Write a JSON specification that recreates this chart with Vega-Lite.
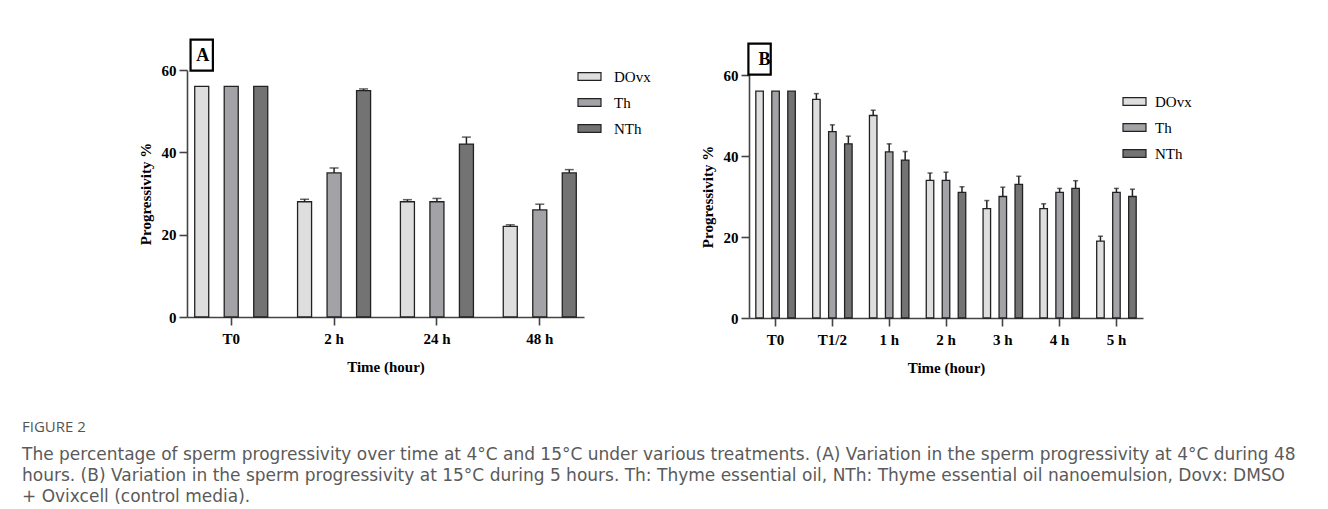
{
  "$schema": "https://vega.github.io/schema/vega-lite/v6.json",
  "padding": {"left": 22, "top": 35, "right": 5, "bottom": 5},
  "background": "white",
  "datasets": {
    "a": [
      {"time": "T0", "group": "DOvx", "value": 56, "upper": 56},
      {"time": "T0", "group": "Th", "value": 56, "upper": 56},
      {"time": "T0", "group": "NTh", "value": 56, "upper": 56},
      {"time": "2 h", "group": "DOvx", "value": 28, "upper": 28.6},
      {"time": "2 h", "group": "Th", "value": 35, "upper": 36.2},
      {"time": "2 h", "group": "NTh", "value": 55, "upper": 55.4},
      {"time": "24 h", "group": "DOvx", "value": 28, "upper": 28.5},
      {"time": "24 h", "group": "Th", "value": 28, "upper": 28.8},
      {"time": "24 h", "group": "NTh", "value": 42, "upper": 43.7},
      {"time": "48 h", "group": "DOvx", "value": 22, "upper": 22.4},
      {"time": "48 h", "group": "Th", "value": 26, "upper": 27.4},
      {"time": "48 h", "group": "NTh", "value": 35, "upper": 35.8}
    ],
    "b": [
      {"time": "T0", "group": "DOvx", "value": 56, "upper": 56},
      {"time": "T0", "group": "Th", "value": 56, "upper": 56},
      {"time": "T0", "group": "NTh", "value": 56, "upper": 56},
      {"time": "T1/2", "group": "DOvx", "value": 54, "upper": 55.4},
      {"time": "T1/2", "group": "Th", "value": 46, "upper": 47.7},
      {"time": "T1/2", "group": "NTh", "value": 43, "upper": 44.9},
      {"time": "1 h", "group": "DOvx", "value": 50, "upper": 51.3},
      {"time": "1 h", "group": "Th", "value": 41, "upper": 43},
      {"time": "1 h", "group": "NTh", "value": 39, "upper": 41.1},
      {"time": "2 h", "group": "DOvx", "value": 34, "upper": 35.8},
      {"time": "2 h", "group": "Th", "value": 34, "upper": 36},
      {"time": "2 h", "group": "NTh", "value": 31, "upper": 32.4},
      {"time": "3 h", "group": "DOvx", "value": 27, "upper": 29},
      {"time": "3 h", "group": "Th", "value": 30, "upper": 32.3},
      {"time": "3 h", "group": "NTh", "value": 33, "upper": 35},
      {"time": "4 h", "group": "DOvx", "value": 27, "upper": 28.2},
      {"time": "4 h", "group": "Th", "value": 31, "upper": 32},
      {"time": "4 h", "group": "NTh", "value": 32, "upper": 33.9},
      {"time": "5 h", "group": "DOvx", "value": 19, "upper": 20.2},
      {"time": "5 h", "group": "Th", "value": 31, "upper": 32},
      {"time": "5 h", "group": "NTh", "value": 30, "upper": 31.8}
    ],
    "one": [{}]
  },
  "config": {
    "font": "Liberation Serif",
    "view": {"stroke": null},
    "axis": {
      "grid": false,
      "domainColor": "#444",
      "domainWidth": 1.6,
      "tickColor": "#444",
      "tickWidth": 1.6,
      "tickSize": 8,
      "labelFont": "Liberation Serif",
      "labelFontSize": 15,
      "labelFontWeight": "bold",
      "labelColor": "black",
      "titleFont": "Liberation Serif",
      "titleFontSize": 15,
      "titleFontWeight": "bold",
      "titleColor": "black"
    },
    "axisX": {"labelAngle": 0, "labelPadding": 6, "titlePadding": 13},
    "axisY": {"labelPadding": 3, "titlePadding": 8},
    "legend": {
      "orient": "none",
      "title": null,
      "symbolType": "M-1,-0.34H1V0.34H-1Z",
      "symbolSize": 529,
      "symbolStrokeColor": "#222",
      "symbolStrokeWidth": 1.2,
      "symbolOpacity": 1,
      "labelFont": "Liberation Serif",
      "labelFontSize": 15,
      "labelColor": "black",
      "rowPadding": 5
    }
  },
  "title": {
    "text": "FIGURE 2",
    "subtitle": [
      "The percentage of sperm progressivity over time at 4°C and 15°C under various treatments. (A) Variation in the sperm progressivity at 4°C during 48",
      "hours. (B) Variation in the sperm progressivity at 15°C during 5 hours. Th: Thyme essential oil, NTh: Thyme essential oil nanoemulsion, Dovx: DMSO",
      "+ Ovixcell (control media)."
    ],
    "orient": "bottom",
    "anchor": "start",
    "frame": "bounds",
    "dx": -116,
    "offset": 45,
    "font": "Open Sans",
    "fontSize": 15,
    "fontWeight": "normal",
    "color": "#555555",
    "subtitleFont": "DejaVu Sans",
    "subtitleFontSize": 17,
    "subtitleColor": "#5a5a5a",
    "subtitleLineHeight": 21,
    "subtitlePadding": 12
  },
  "spacing": 49,
  "resolve": {
    "scale": {"fill": "independent", "x": "independent", "y": "independent", "xOffset": "independent"},
    "legend": {"fill": "independent"}
  },
  "hconcat": [
    {
      "width": 397,
      "height": 247,
      "layer": [
        {
          "data": {"name": "a"},
          "mark": {"type": "bar", "stroke": "#222", "strokeWidth": 1.3},
          "encoding": {
            "x": {"field": "time", "type": "nominal", "sort": ["T0", "2 h", "24 h", "48 h"], "scale": {"paddingInner": 0.29, "paddingOuter": 0.075}, "axis": {"title": "Time (hour)"}},
            "xOffset": {"field": "group", "type": "nominal", "sort": ["DOvx", "Th", "NTh"], "scale": {"paddingInner": 0.525, "paddingOuter": 0}},
            "y": {"field": "value", "type": "quantitative", "scale": {"domain": [0, 60], "nice": false}, "axis": {"title": "Progressivity %", "values": [0, 20, 40, 60]}},
            "fill": {"field": "group", "type": "nominal", "scale": {"domain": ["DOvx", "Th", "NTh"], "range": ["#dedede", "#a3a3a7", "#737373"]}, "legend": {"legendX": 390, "legendY": -6, "labelOffset": 12}}
          }
        },
        {
          "data": {"name": "a"},
          "transform": [{"filter": "datum.upper > datum.value"}],
          "mark": {"type": "rule", "color": "#222", "strokeWidth": 1.5},
          "encoding": {
            "x": {"field": "time", "type": "nominal", "sort": ["T0", "2 h", "24 h", "48 h"]},
            "xOffset": {"field": "group", "type": "nominal", "sort": ["DOvx", "Th", "NTh"]},
            "y": {"field": "value", "type": "quantitative"},
            "y2": {"field": "upper"}
          }
        },
        {
          "data": {"name": "a"},
          "transform": [{"filter": "datum.upper > datum.value"}],
          "mark": {"type": "tick", "orient": "horizontal", "size": 9, "thickness": 1.5, "color": "#222"},
          "encoding": {
            "x": {"field": "time", "type": "nominal", "sort": ["T0", "2 h", "24 h", "48 h"]},
            "xOffset": {"field": "group", "type": "nominal", "sort": ["DOvx", "Th", "NTh"]},
            "y": {"field": "upper", "type": "quantitative"}
          }
        },
        {
          "data": {"name": "one"},
          "mark": {"type": "point", "shape": "M-0.72,-1H0.72V1H-0.72Z", "size": 961, "filled": true, "fill": "white", "stroke": "black", "strokeWidth": 2.2, "opacity": 1, "dx": 1},
          "encoding": {
            "x": {"datum": "T0"},
            "xOffset": {"datum": "DOvx"},
            "y": {"datum": 63.6}
          }
        },
        {
          "data": {"name": "one"},
          "mark": {"type": "text", "text": "A", "font": "Liberation Serif", "fontSize": 18, "fontWeight": "bold", "color": "black", "align": "center", "baseline": "middle", "dx": 1, "dy": 1},
          "encoding": {
            "x": {"datum": "T0"},
            "xOffset": {"datum": "DOvx"},
            "y": {"datum": 63.6}
          }
        }
      ]
    },
    {
      "width": 394,
      "height": 248,
      "layer": [
        {
          "data": {"name": "b"},
          "mark": {"type": "bar", "stroke": "#222", "strokeWidth": 1.3},
          "encoding": {
            "x": {"field": "time", "type": "nominal", "sort": ["T0", "T1/2", "1 h", "2 h", "3 h", "4 h", "5 h"], "scale": {"paddingInner": 0.305, "paddingOuter": 0.12}, "axis": {"title": "Time (hour)"}},
            "xOffset": {"field": "group", "type": "nominal", "sort": ["DOvx", "Th", "NTh"], "scale": {"paddingInner": 0.53, "paddingOuter": 0}},
            "y": {"field": "value", "type": "quantitative", "scale": {"domain": [0, 60], "nice": false, "range": [248, 5]}, "axis": {"title": "Progressivity %", "values": [0, 20, 40, 60]}},
            "fill": {"field": "group", "type": "nominal", "scale": {"domain": ["DOvx", "Th", "NTh"], "range": ["#dedede", "#a3a3a7", "#737373"]}, "legend": {"legendX": 373, "legendY": 19, "labelOffset": 8}}
          }
        },
        {
          "data": {"name": "b"},
          "transform": [{"filter": "datum.upper > datum.value"}],
          "mark": {"type": "rule", "color": "#222", "strokeWidth": 1.5},
          "encoding": {
            "x": {"field": "time", "type": "nominal", "sort": ["T0", "T1/2", "1 h", "2 h", "3 h", "4 h", "5 h"]},
            "xOffset": {"field": "group", "type": "nominal", "sort": ["DOvx", "Th", "NTh"]},
            "y": {"field": "value", "type": "quantitative"},
            "y2": {"field": "upper"}
          }
        },
        {
          "data": {"name": "b"},
          "transform": [{"filter": "datum.upper > datum.value"}],
          "mark": {"type": "tick", "orient": "horizontal", "size": 5, "thickness": 1.5, "color": "#222"},
          "encoding": {
            "x": {"field": "time", "type": "nominal", "sort": ["T0", "T1/2", "1 h", "2 h", "3 h", "4 h", "5 h"]},
            "xOffset": {"field": "group", "type": "nominal", "sort": ["DOvx", "Th", "NTh"]},
            "y": {"field": "upper", "type": "quantitative"}
          }
        },
        {
          "data": {"name": "one"},
          "mark": {"type": "point", "shape": "M-0.72,-1H0.72V1H-0.72Z", "size": 961, "filled": true, "fill": "white", "stroke": "black", "strokeWidth": 2.2, "opacity": 1, "dx": 5},
          "encoding": {
            "x": {"datum": "T0"},
            "xOffset": {"datum": "DOvx"},
            "y": {"datum": 63.9}
          }
        },
        {
          "data": {"name": "one"},
          "mark": {"type": "text", "text": "B", "font": "Liberation Serif", "fontSize": 18, "fontWeight": "bold", "color": "black", "align": "center", "baseline": "middle", "dx": 5, "dy": 1},
          "encoding": {
            "x": {"datum": "T0"},
            "xOffset": {"datum": "DOvx"},
            "y": {"datum": 63.9}
          }
        }
      ]
    }
  ]
}
